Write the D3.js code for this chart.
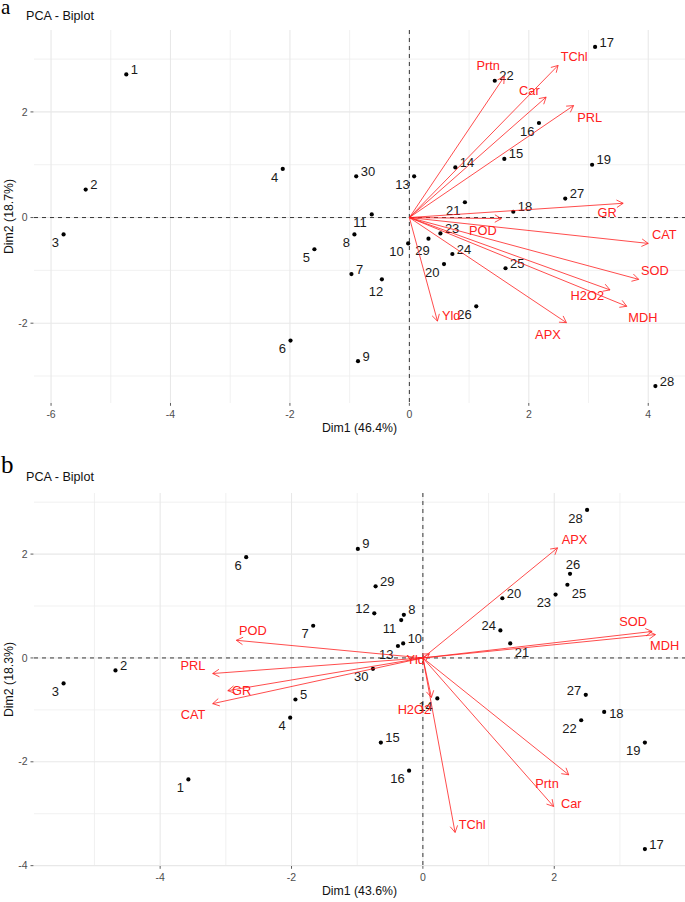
<!DOCTYPE html>
<html>
<head>
<meta charset="utf-8">
<script src="https://cdn.jsdelivr.net/npm/d3@7"></script>
<style>
  body { margin: 0; background: #fff; }
  svg { font-family: "Liberation Sans", Arial, sans-serif; display: block; }
</style>
</head>
<body>
<script>
// sample ids, same for both plots
var ids = ["1","2","3","4","5","6","7","8","9","10","11","12","13","14","15",
           "16","17","18","19","20","21","22","23","24","25","26","27","28","29","30"];
var varNames = ["Prtn","TChl","Car","PRL","GR","POD","CAT","SOD","H2O2","MDH","APX","Yld"];

// plot a - individuals
var indA_x = [-4.74,-5.42,-5.79,-2.12,-1.59,-1.99,-0.97,-0.92,-0.86,-0.02,-0.63,-0.46,0.08,0.77,1.59,
              2.17,3.11,1.74,3.06,0.58,0.93,1.43,0.52,0.72,1.61,1.12,2.61,4.12,0.32,-0.89];
var indA_y = [2.71,0.53,-0.32,0.92,-0.60,-2.33,-1.07,-0.32,-2.72,-0.49,0.06,-1.17,0.78,0.95,1.11,
              1.79,3.23,0.11,1.00,-0.88,0.29,2.59,-0.30,-0.69,-0.96,-1.68,0.36,-3.19,-0.40,0.78];
var indA_side = ["ur","ur","ll","ll","ll","ll","ur","ll","ur","ll","ll","bl","ll","ur","ur",
                 "ll","ur","ur","ur","ll","ll","ur","ur","ur","ur","ll","ur","ur","bl","ur"];
// plot a - variables
var varA_x = [1.59,2.49,2.29,2.75,3.58,1.54,4.00,3.84,3.36,3.64,2.63,0.47];
var varA_y = [2.67,2.88,2.28,2.12,0.27,-0.02,-0.49,-1.17,-1.37,-1.68,-1.99,-1.96];
var varA_labX = [1.32,2.76,2.01,3.02,3.31,1.23,4.27,4.11,2.98,3.91,2.32,0.70];
var varA_labY = [2.87,3.05,2.41,1.90,0.10,-0.25,-0.33,-1.01,-1.47,-1.89,-2.21,-1.86];

// plot b - individuals
var indB_x = [-3.57,-4.68,-5.47,-2.02,-1.94,-2.69,-1.67,-0.29,-0.99,-0.30,-0.33,-0.74,-0.38,0.22,-0.64,
              -0.21,3.38,2.76,3.38,1.21,1.33,2.41,2.02,1.18,2.20,2.24,2.48,2.50,-0.72,-0.76];
var indB_y = [-2.34,-0.24,-0.49,-1.15,-0.80,1.94,0.62,0.83,2.10,0.28,0.73,0.86,0.23,-0.78,-1.63,
              -2.17,-3.68,-1.04,-1.63,1.15,0.28,-1.20,1.22,0.53,1.41,1.62,-0.71,2.85,1.38,-0.21];
var indB_side = ["ll","ur","ll","ll","ur","ll","ll","ur","ur","ur","ll","ul","ll","ll","ur",
                 "ll","ur","r","ll","ur","lr","ll","ll","ul","lr","u","ul","ll","ur","ll"];
// plot b - variables
var varB_x = [2.22,0.49,1.99,-3.20,-2.97,-2.84,-3.20,3.49,0.13,3.54,2.05,0.10];
var varB_y = [-2.25,-3.36,-2.86,-0.30,-0.63,0.34,-0.88,0.51,-0.76,0.45,2.12,0.08];
var varB_labX = [1.89,0.75,2.26,-3.50,-2.76,-2.59,-3.50,3.20,-0.13,3.68,2.31,-0.11];
var varB_labY = [-2.41,-3.20,-2.80,-0.15,-0.62,0.52,-1.09,0.70,-1.00,0.24,2.29,-0.03];

var W = 685, H = 902;
var svg = d3.select("body").append("svg").attr("width", W).attr("height", H);

// text offset of a point label, relative to the point
function labelOffset(side, txt) {
  var hw = txt.length * 3.6 + 4.5;
  if (side == "ur") return [hw, -5];
  if (side == "ll") return [-hw, 8];
  if (side == "ul") return [-hw, -4.5];
  if (side == "lr") return [hw, 9];
  if (side == "r") return [hw + 0.5, 1];
  if (side == "u") return [3, -9];
  return [-6, 11.7]; // bl
}

function drawPanel(p) {
  var left = 34, right = 685;
  var allX = p.ix.concat(p.vx), allY = p.iy.concat(p.vy);
  var ex = d3.extent(allX), ey = d3.extent(allY);
  var px = (ex[1] - ex[0]) * 0.05, py = (ey[1] - ey[0]) * 0.05;
  var x = d3.scaleLinear().domain([ex[0] - px, ex[1] + px]).range([left, right]);
  var y = d3.scaleLinear().domain([ey[0] - py, ey[1] + py]).range([p.bottom, p.top]);

  var g = svg.append("g");

  // grid
  var xMajor = d3.range(Math.ceil(x.domain()[0] / 2) * 2, x.domain()[1], 2);
  var yMajor = d3.range(Math.ceil(y.domain()[0] / 2) * 2, y.domain()[1], 2);
  var xMinor = d3.range(Math.ceil(x.domain()[0]), x.domain()[1], 1).filter(function(v) { return Math.abs(v % 2) == 1; });
  var yMinor = d3.range(Math.ceil(y.domain()[0]), y.domain()[1], 1).filter(function(v) { return Math.abs(v % 2) == 1; });

  g.selectAll(".gxm").data(xMinor).enter().append("line")
    .attr("x1", d => x(d)).attr("x2", d => x(d)).attr("y1", p.top).attr("y2", p.bottom)
    .attr("stroke", "#eeeeee").attr("stroke-width", 0.8);
  g.selectAll(".gym").data(yMinor).enter().append("line")
    .attr("y1", d => y(d)).attr("y2", d => y(d)).attr("x1", left).attr("x2", right)
    .attr("stroke", "#eeeeee").attr("stroke-width", 0.8);
  g.selectAll(".gx").data(xMajor).enter().append("line")
    .attr("x1", d => x(d)).attr("x2", d => x(d)).attr("y1", p.top).attr("y2", p.bottom)
    .attr("stroke", "#e8e8e8").attr("stroke-width", 1.1);
  g.selectAll(".gy").data(yMajor).enter().append("line")
    .attr("y1", d => y(d)).attr("y2", d => y(d)).attr("x1", left).attr("x2", right)
    .attr("stroke", "#e8e8e8").attr("stroke-width", 1.1);

  // axes ticks + labels
  g.selectAll(".tx").data(xMajor).enter().append("line")
    .attr("x1", d => x(d)).attr("x2", d => x(d)).attr("y1", p.bottom).attr("y2", p.bottom + 2.8)
    .attr("stroke", "#333").attr("stroke-width", 0.8);
  g.selectAll(".txl").data(xMajor).enter().append("text")
    .attr("x", d => x(d)).attr("y", p.bottom + 11).attr("dy", "0.35em")
    .attr("text-anchor", "middle").attr("font-size", 10.5).attr("fill", "#4d4d4d")
    .text(d => d);
  g.selectAll(".ty").data(yMajor).enter().append("line")
    .attr("y1", d => y(d)).attr("y2", d => y(d)).attr("x1", left - 3.5).attr("x2", left - 0.5)
    .attr("stroke", "#333").attr("stroke-width", 0.8);
  g.selectAll(".tyl").data(yMajor).enter().append("text")
    .attr("x", left - 6.5).attr("y", d => y(d)).attr("dy", "0.35em")
    .attr("text-anchor", "end").attr("font-size", 10.5).attr("fill", "#4d4d4d")
    .text(d => d);

  g.append("text").attr("x", (left + right) / 2).attr("y", p.bottom + 25).attr("dy", "0.35em")
    .attr("text-anchor", "middle").attr("font-size", 12.3).attr("fill", "#111").text(p.xTitle);
  g.append("text").attr("transform", "translate(9," + ((p.top + p.bottom) / 2) + ") rotate(-90)")
    .attr("dy", "0.35em").attr("text-anchor", "middle").attr("font-size", 12.3).attr("fill", "#111")
    .text(p.yTitle);

  g.append("text").attr("x", 26).attr("y", p.titleY).attr("font-size", 12.6).attr("fill", "#111")
    .text("PCA - Biplot");
  g.append("text").attr("x", 1).attr("y", p.letterY).attr("font-size", p.letterSize)
    .attr("font-family", "'Liberation Serif', 'Times New Roman', serif").attr("fill", "#000")
    .text(p.letter);

  // zero lines
  g.append("line").attr("x1", left).attr("x2", right).attr("y1", y(0)).attr("y2", y(0))
    .attr("stroke", "#222").attr("stroke-width", 0.9).attr("stroke-dasharray", "4,4");
  g.append("line").attr("x1", x(0)).attr("x2", x(0)).attr("y1", p.top).attr("y2", p.bottom)
    .attr("stroke", "#222").attr("stroke-width", 0.9).attr("stroke-dasharray", "4,4");

  // individuals
  g.selectAll(".pt").data(ids).enter().append("circle")
    .attr("cx", (d, i) => x(p.ix[i])).attr("cy", (d, i) => y(p.iy[i])).attr("r", 2.1)
    .attr("fill", "#000");
  g.selectAll(".ptl").data(ids).enter().append("text")
    .attr("x", (d, i) => x(p.ix[i]) + labelOffset(p.side[i], d)[0])
    .attr("y", (d, i) => y(p.iy[i]) + labelOffset(p.side[i], d)[1])
    .attr("dy", "0.35em").attr("text-anchor", "middle").attr("font-size", 13).attr("fill", "#1a1a1a")
    .text(d => d);

  // variables
  var red = "#ff2020";
  var x0 = x(0), y0 = y(0);
  varNames.forEach(function(name, i) {
    var ex2 = x(p.vx[i]), ey2 = y(p.vy[i]);
    var ang = Math.atan2(ey2 - y0, ex2 - x0);
    var len = 7.5, a = Math.PI / 6;
    g.append("line").attr("x1", x0).attr("y1", y0).attr("x2", ex2).attr("y2", ey2)
      .attr("stroke", red).attr("stroke-width", 0.8);
    g.append("path")
      .attr("d", "M" + (ex2 - len * Math.cos(ang - a)) + "," + (ey2 - len * Math.sin(ang - a)) +
                 "L" + ex2 + "," + ey2 +
                 "L" + (ex2 - len * Math.cos(ang + a)) + "," + (ey2 - len * Math.sin(ang + a)))
      .attr("fill", "none").attr("stroke", red).attr("stroke-width", 0.8);
  });
  g.selectAll(".vl").data(varNames).enter().append("text")
    .attr("x", (d, i) => x(p.lx[i])).attr("y", (d, i) => y(p.ly[i])).attr("dy", "0.35em")
    .attr("text-anchor", "middle").attr("font-size", 12.8).attr("fill", red)
    .text(d => d);
}

drawPanel({top: 30, bottom: 403, titleY: 20, letter: "a", letterY: 14, letterSize: 21,
           xTitle: "Dim1 (46.4%)", yTitle: "Dim2 (18.7%)",
           ix: indA_x, iy: indA_y, side: indA_side, vx: varA_x, vy: varA_y, lx: varA_labX, ly: varA_labY});
drawPanel({top: 493, bottom: 866, titleY: 481, letter: "b", letterY: 473, letterSize: 25,
           xTitle: "Dim1 (43.6%)", yTitle: "Dim2 (18.3%)",
           ix: indB_x, iy: indB_y, side: indB_side, vx: varB_x, vy: varB_y, lx: varB_labX, ly: varB_labY});
</script>
</body>
</html>
